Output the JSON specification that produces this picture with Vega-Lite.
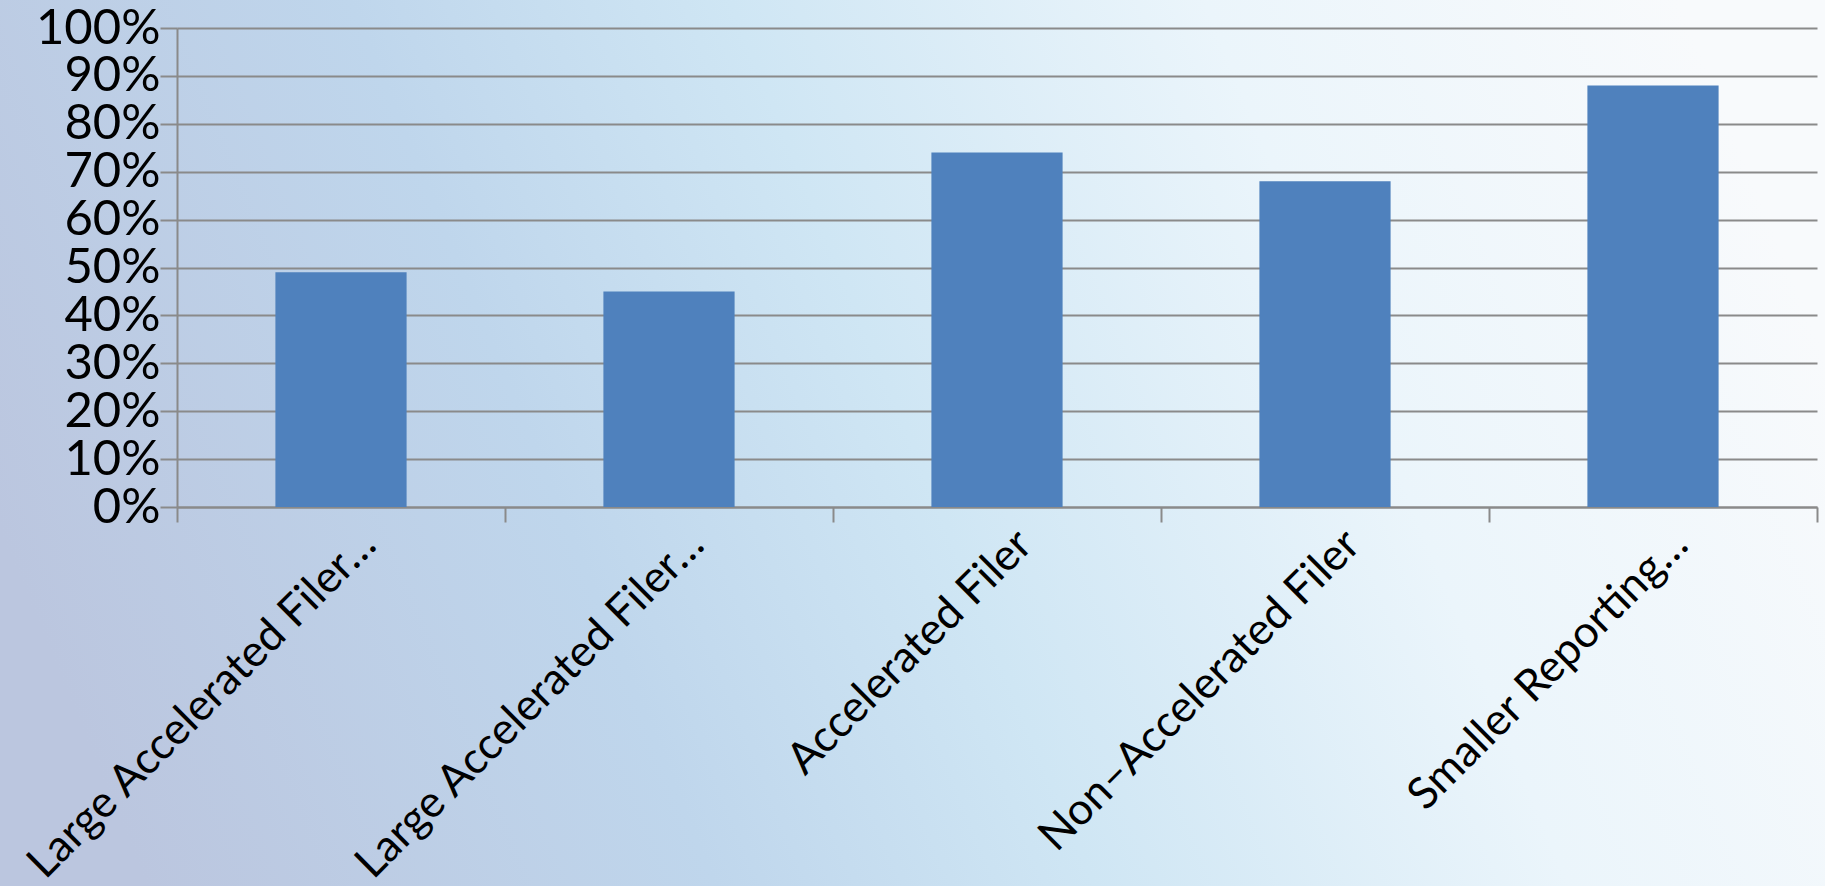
{
  "$schema": "https://vega.github.io/schema/vega-lite/v6.json",
  "width": 1825,
  "height": 886,
  "autosize": {"type": "none"},
  "padding": 0,
  "background": "#c9dbeb",
  "view": {
    "stroke": null,
    "fill": {
      "gradient": "linear",
      "x1": 0, "y1": 0.6, "x2": 1, "y2": 0.4,
      "stops": [
        {"offset": 0, "color": "#bbc6df"},
        {"offset": 0.3, "color": "#bfd6ec"},
        {"offset": 0.5, "color": "#cfe6f4"},
        {"offset": 0.75, "color": "#ebf5fb"},
        {"offset": 1, "color": "#f8fafc"}
      ]
    }
  },
  "data": {
    "values": [
      {"k": "lg1", "label": "Large Accelerated Filer…", "pct": 0.49},
      {"k": "lg2", "label": "Large Accelerated Filer…", "pct": 0.45},
      {"k": "acc", "label": "Accelerated Filer", "pct": 0.74},
      {"k": "non", "label": "Non–Accelerated Filer", "pct": 0.68},
      {"k": "src", "label": "Smaller Reporting…", "pct": 0.88}
    ]
  },
  "mark": {"type": "bar", "color": "#4f81bd", "width": {"band": 0.4}},
  "encoding": {
    "x": {
      "field": "k",
      "type": "nominal",
      "sort": null,
      "scale": {"paddingInner": 0, "paddingOuter": 0, "range": [177, 1817]},
      "axis": {
        "title": null,
        "offset": -379,
        "labelExpr": "datum.value == 'lg1' || datum.value == 'lg2' ? 'Large Accelerated Filer…' : datum.value == 'acc' ? 'Accelerated Filer' : datum.value == 'non' ? 'Non–Accelerated Filer' : datum.value == 'src' ? 'Smaller Reporting…' : ''",
        "labelAngle": -45,
        "labelFont": "Lato",
        "labelFontSize": 44,
        "labelColor": "#000000",
        "labelLimit": 0,
        "labelOverlap": false,
        "labelPadding": 0,
        "labelOffset": 12,
        "tickBand": "extent",
        "tickSize": 15,
        "tickColor": "#8a8a8a",
        "tickWidth": 2,
        "domainColor": "#8a8a8a",
        "domainWidth": 2,
        "grid": false
      }
    },
    "y": {
      "field": "pct",
      "type": "quantitative",
      "scale": {"domain": [0, 1], "nice": false, "range": [507, 28]},
      "axis": {
        "title": null,
        "offset": -177,
        "format": ".0%",
        "values": [0, 0.1, 0.2, 0.3, 0.4, 0.5, 0.6, 0.7, 0.8, 0.9, 1],
        "labelFont": "Lato",
        "labelFontSize": 49,
        "labelColor": "#000000",
        "labelPadding": 0,
        "labelOverlap": false,
        "tickSize": 17,
        "tickColor": "#8a8a8a",
        "tickWidth": 2,
        "domainColor": "#8a8a8a",
        "domainWidth": 2,
        "grid": true,
        "gridColor": "#8a8a8a",
        "gridWidth": 2,
        "gridOpacity": 1
      }
    }
  }
}
